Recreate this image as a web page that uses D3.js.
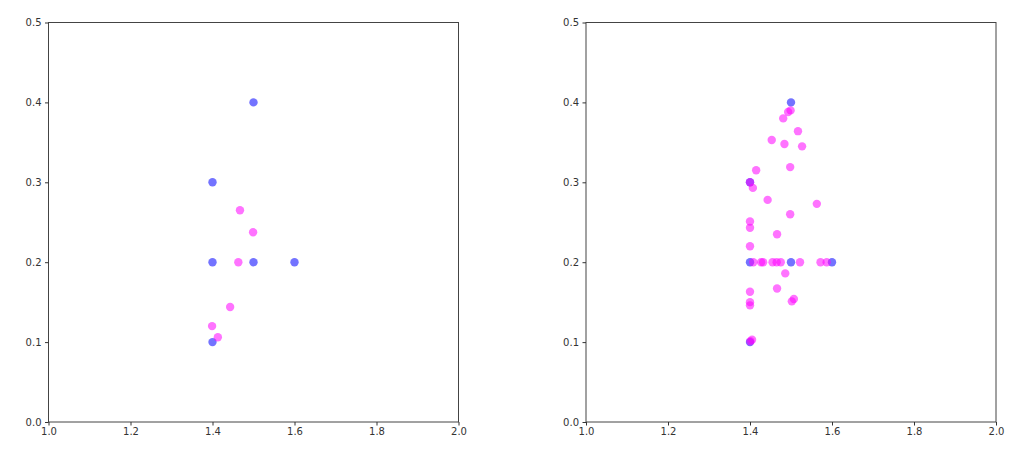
<!DOCTYPE html>
<html>
<head>
<meta charset="utf-8">
<script src="https://cdn.jsdelivr.net/npm/d3@7"></script>
<style>
  body { margin: 0; background: #fff; }
  svg { display: block; }
  .tick text { font-family: "DejaVu Sans", sans-serif; font-size: 10px; fill: #333; }
  .tick line { stroke: #333; }
</style>
</head>
<body>
<svg id="chart" width="1024" height="468"></svg>
<script>
// Axis domains and ticks
const xTicks = [1.0, 1.2, 1.4, 1.6, 1.8, 2.0];
const yTicks = [0.0, 0.1, 0.2, 0.3, 0.4, 0.5];

// Left panel data
const leftBlueX = [1.5, 1.4, 1.4, 1.5, 1.6, 1.4];
const leftBlueY = [0.4, 0.3, 0.2, 0.2, 0.2, 0.1];
const leftPinkX = [1.467, 1.499, 1.463, 1.443, 1.399, 1.413];
const leftPinkY = [0.265, 0.2375, 0.2, 0.144, 0.120, 0.106];

// Right panel data
const rightBlueX = [1.5, 1.4, 1.4, 1.5, 1.6, 1.4];
const rightBlueY = [0.4, 0.3, 0.2, 0.2, 0.2, 0.1];
const rightPinkX = [1.493, 1.499, 1.481, 1.517, 1.453, 1.484, 1.527, 1.415, 1.498, 1.400,
                    1.407, 1.443, 1.563, 1.498, 1.400, 1.400, 1.466, 1.400, 1.408, 1.427,
                    1.432, 1.455, 1.465, 1.475, 1.522, 1.572, 1.587, 1.486, 1.400, 1.466,
                    1.400, 1.400, 1.502, 1.507, 1.405, 1.401];
const rightPinkY = [0.388, 0.390, 0.380, 0.364, 0.353, 0.348, 0.345, 0.315, 0.319, 0.300,
                    0.293, 0.278, 0.273, 0.260, 0.251, 0.243, 0.235, 0.220, 0.200, 0.200,
                    0.200, 0.200, 0.200, 0.200, 0.200, 0.200, 0.200, 0.186, 0.163, 0.167,
                    0.150, 0.146, 0.151, 0.154, 0.103, 0.101];

const svg = d3.select("#chart");
const plotTop = 22.5, plotBottom = 422;

const panels = [
  { x0: 48.5, x1: 458.5, blue: [leftBlueX, leftBlueY], pink: [leftPinkX, leftPinkY] },
  { x0: 586, x1: 996, blue: [rightBlueX, rightBlueY], pink: [rightPinkX, rightPinkY] }
];

panels.forEach(p => {
  const x = d3.scaleLinear().domain([1.0, 2.0]).range([p.x0, p.x1]);
  const y = d3.scaleLinear().domain([0.0, 0.5]).range([plotBottom, plotTop]);
  const g = svg.append("g");

  g.append("rect").attr("x", p.x0).attr("y", plotTop)
    .attr("width", p.x1 - p.x0).attr("height", plotBottom - plotTop)
    .attr("fill", "none").attr("stroke", "#444").attr("stroke-width", 1);

  const xa = g.append("g").attr("transform", `translate(0,${plotBottom})`)
    .call(d3.axisBottom(x).tickValues(xTicks).tickFormat(d3.format(".1f")).tickSize(3.5).tickPadding(2.5));
  const ya = g.append("g").attr("transform", `translate(${p.x0},0)`)
    .call(d3.axisLeft(y).tickValues(yTicks).tickFormat(d3.format(".1f")).tickSize(3.5).tickPadding(3.5));
  [xa, ya].forEach(a => a.select(".domain").remove());

  const pinkPts = p.pink[0].map((v, i) => [v, p.pink[1][i]]);
  const bluePts = p.blue[0].map((v, i) => [v, p.blue[1][i]]);

  g.append("g").selectAll("circle").data(bluePts).join("circle")
    .attr("cx", d => x(d[0])).attr("cy", d => y(d[1])).attr("r", 4.2)
    .attr("fill", "#0000ff").attr("fill-opacity", 0.55);
  g.append("g").selectAll("circle").data(pinkPts).join("circle")
    .attr("cx", d => x(d[0])).attr("cy", d => y(d[1])).attr("r", 4.2)
    .attr("fill", "#ff00ff").attr("fill-opacity", 0.55);
});
</script>
</body>
</html>
